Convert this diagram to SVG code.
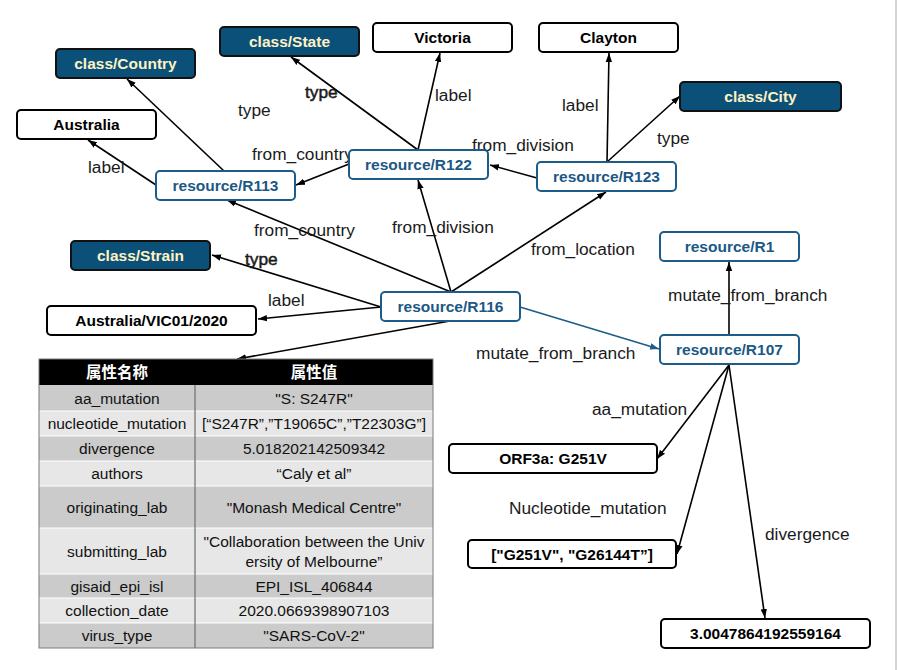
<svg xmlns="http://www.w3.org/2000/svg" width="898" height="670" viewBox="0 0 898 670">
<style>
.n rect{rx:4;ry:4;stroke-width:2}
.cls rect{fill:#0b5079;stroke:#111}
.cls text{fill:#fff2c2}
.res rect{fill:#fff;stroke:#1d5c88}
.res text{fill:#1b5885}
.lit rect{fill:#fff;stroke:#000}
.lit text{fill:#000}
.n text{font-family:"Liberation Sans",Arial,sans-serif;font-weight:bold;font-size:15.5px;text-anchor:middle}
.e line{stroke:#000;stroke-width:1.6;marker-end:url(#ah)}
.e line.blue{stroke:#1d5c88;marker-end:url(#ahb)}
.lb{font-family:"Liberation Sans",Arial,sans-serif;font-size:17.3px;fill:#1a1a1a}
.bd{stroke:#1a1a1a;stroke-width:0.5}
.tt{font-family:"Liberation Sans",Arial,sans-serif;font-size:15.5px;fill:#111;text-anchor:middle}
.th{font-family:"Noto Sans CJK SC",sans-serif;font-weight:bold;font-size:15.5px;fill:#fff;text-anchor:middle}
.dk{fill:#cbcbcb}
.lt{fill:#e7e7e7}
</style>
<defs>
<marker id="ah" markerUnits="userSpaceOnUse" markerWidth="10" markerHeight="8" refX="9" refY="4" orient="auto">
<path d="M0,0.8 L9,4 L0,7.2 z" fill="#000"/>
</marker>
<marker id="ahb" markerUnits="userSpaceOnUse" markerWidth="10" markerHeight="8" refX="9" refY="4" orient="auto">
<path d="M0,0.8 L9,4 L0,7.2 z" fill="#1d5c88"/>
</marker>
</defs>
<rect x="0" y="0" width="898" height="670" fill="#fff"/>
<line x1="896" y1="0" x2="896" y2="670" stroke="#d4d4d4" stroke-width="2"/>

<g id="connectors" class="e">
<line x1="224" y1="171" x2="127" y2="79"/>
<line x1="156" y1="185" x2="88" y2="140"/>
<line x1="349" y1="164" x2="296" y2="185"/>
<line x1="418" y1="150" x2="291" y2="57"/>
<line x1="418" y1="150" x2="440" y2="53"/>
<line x1="537" y1="178" x2="490" y2="165"/>
<line x1="607" y1="162" x2="609" y2="53"/>
<line x1="607" y1="162" x2="680" y2="96"/>
<line x1="451" y1="292" x2="227" y2="200"/>
<line x1="451" y1="292" x2="418" y2="180"/>
<line x1="451" y1="292" x2="606" y2="192"/>
<line x1="381" y1="307" x2="212" y2="255"/>
<line x1="381" y1="307" x2="258" y2="319"/>
<line x1="450" y1="321" x2="237" y2="359"/>
<line class="blue" x1="520" y1="307" x2="659" y2="349"/>
<line x1="729" y1="335" x2="729" y2="262"/>
<line x1="729" y1="365" x2="657" y2="459"/>
<line x1="729" y1="365" x2="677" y2="554"/>
<line x1="729" y1="365" x2="765" y2="618"/>
</g>

<g id="edge-labels">
<text class="lb" x="238" y="116">type</text>
<text class="lb bd" x="305" y="98">type</text>
<text class="lb" x="88" y="173">label</text>
<text class="lb" x="252" y="160">from_country</text>
<text class="lb" x="435" y="101">label</text>
<text class="lb" x="562" y="111">label</text>
<text class="lb" x="657" y="144">type</text>
<text class="lb" x="472" y="151">from_division</text>
<text class="lb" x="254" y="236">from_country</text>
<text class="lb" x="392" y="233">from_division</text>
<text class="lb" x="531" y="255">from_location</text>
<text class="lb bd" x="245" y="265">type</text>
<text class="lb" x="268" y="306">label</text>
<text class="lb" x="476" y="359">mutate_from_branch</text>
<text class="lb" x="668" y="301">mutate_from_branch</text>
<text class="lb" x="592" y="415">aa_mutation</text>
<text class="lb" x="509" y="514">Nucleotide_mutation</text>
<text class="lb" x="765" y="540">divergence</text>
</g>

<g id="class-country" class="n cls"><rect x="56" y="49" width="139" height="29"/><text x="125.5" y="69">class/Country</text></g>
<g id="class-state" class="n cls"><rect x="220" y="27" width="139" height="29"/><text x="289.5" y="47">class/State</text></g>
<g id="victoria" class="n lit"><rect x="373" y="23" width="139" height="29"/><text x="442.5" y="43">Victoria</text></g>
<g id="clayton" class="n lit"><rect x="539" y="23" width="139" height="29"/><text x="608.5" y="43">Clayton</text></g>
<g id="class-city" class="n cls"><rect x="680" y="82" width="161" height="29"/><text x="760.5" y="102">class/City</text></g>
<g id="australia" class="n lit"><rect x="17" y="110" width="139" height="29"/><text x="86.5" y="130">Australia</text></g>
<g id="r113" class="n res"><rect x="156" y="171" width="139" height="29"/><text x="225.5" y="191">resource/R113</text></g>
<g id="r122" class="n res"><rect x="349" y="150" width="139" height="29"/><text x="418.5" y="170">resource/R122</text></g>
<g id="r123" class="n res"><rect x="537" y="162" width="139" height="29"/><text x="606.5" y="182">resource/R123</text></g>
<g id="class-strain" class="n cls"><rect x="71" y="241" width="139" height="29"/><text x="140.5" y="261">class/Strain</text></g>
<g id="vic01" class="n lit"><rect x="47" y="306" width="209" height="29"/><text x="151.5" y="326">Australia/VIC01/2020</text></g>
<g id="r116" class="n res"><rect x="381" y="292" width="139" height="29"/><text x="450.5" y="312">resource/R116</text></g>
<g id="r1" class="n res"><rect x="660" y="232" width="139" height="29"/><text x="729.5" y="252">resource/R1</text></g>
<g id="r107" class="n res"><rect x="660" y="335" width="139" height="29"/><text x="729.5" y="355">resource/R107</text></g>
<g id="orf3a" class="n lit"><rect x="449" y="444" width="208" height="29"/><text x="553" y="464">ORF3a: G251V</text></g>
<g id="nuc-mut" class="n lit"><rect x="468" y="540" width="208" height="28"/><text x="572" y="560">["G251V", "G26144T”]</text></g>
<g id="divergence" class="n lit"><rect x="661" y="619" width="209" height="29"/><text x="765.5" y="639">3.0047864192559164</text></g>

<g id="table">
<rect x="39" y="359" width="394" height="26" fill="#000"/>
<rect class="dk" x="39" y="385" width="394" height="26"/>
<rect class="lt" x="39" y="411" width="394" height="25"/>
<rect class="dk" x="39" y="436" width="394" height="25"/>
<rect class="lt" x="39" y="461" width="394" height="25"/>
<rect class="dk" x="39" y="486" width="394" height="42"/>
<rect class="lt" x="39" y="528" width="394" height="46"/>
<rect class="dk" x="39" y="574" width="394" height="24"/>
<rect class="lt" x="39" y="598" width="394" height="25"/>
<rect class="dk" x="39" y="623" width="394" height="25"/>
<g stroke="#fff" stroke-width="1.2">
<line x1="39" y1="411" x2="433" y2="411"/>
<line x1="39" y1="436" x2="433" y2="436"/>
<line x1="39" y1="461" x2="433" y2="461"/>
<line x1="39" y1="486" x2="433" y2="486"/>
<line x1="39" y1="528" x2="433" y2="528"/>
<line x1="39" y1="574" x2="433" y2="574"/>
<line x1="39" y1="598" x2="433" y2="598"/>
<line x1="39" y1="623" x2="433" y2="623"/>
</g>
<line x1="195" y1="385" x2="195" y2="648" stroke="#6e6e6e" stroke-width="1.2"/>
<rect x="39" y="359" width="394" height="289" fill="none" stroke="#7a7a7a" stroke-width="1"/>
<text class="th" x="117" y="378">属性名称</text>
<text class="th" x="314" y="378">属性值</text>
<text class="tt" x="117" y="403.5">aa_mutation</text><text class="tt" x="314" y="403.5">"S: S247R"</text>
<text class="tt" x="117" y="429">nucleotide_mutation</text><text class="tt" x="314" y="429">[“S247R”,”T19065C”,”T22303G”]</text>
<text class="tt" x="117" y="454">divergence</text><text class="tt" x="314" y="454">5.018202142509342</text>
<text class="tt" x="117" y="479">authors</text><text class="tt" x="314" y="479">“Caly et al”</text>
<text class="tt" x="117" y="512.5">originating_lab</text><text class="tt" x="314" y="512.5">"Monash Medical Centre"</text>
<text class="tt" x="117" y="556.5">submitting_lab</text><text class="tt" x="314" y="546.5">"Collaboration between the Univ</text><text class="tt" x="314" y="566.5">ersity of Melbourne”</text>
<text class="tt" x="117" y="591.5">gisaid_epi_isl</text><text class="tt" x="314" y="591.5">EPI_ISL_406844</text>
<text class="tt" x="117" y="616">collection_date</text><text class="tt" x="314" y="616">2020.0669398907103</text>
<text class="tt" x="117" y="641">virus_type</text><text class="tt" x="314" y="641">"SARS-CoV-2"</text>
</g>
</svg>
